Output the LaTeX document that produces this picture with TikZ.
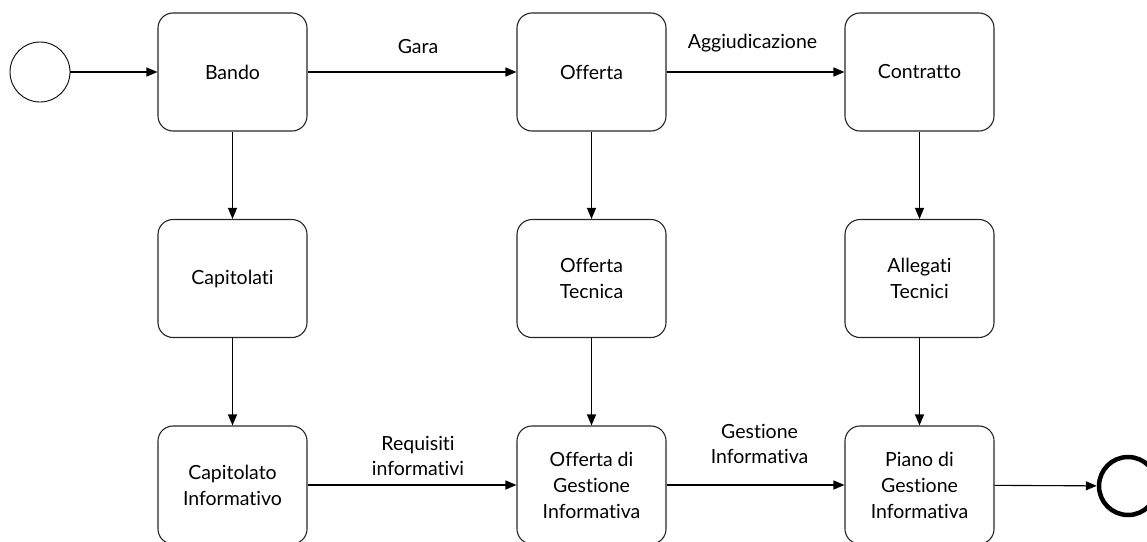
\documentclass[tikz,border=0pt]{standalone}
\usepackage{fontspec}
\setmainfont{Lato}[Ligatures=NoCommon]
\usetikzlibrary{arrows.meta}
\begin{document}
\begin{tikzpicture}[x=1pt,y=-1pt,
  task/.style={draw=black!85, line width=1.1pt, rounded corners=15pt,
    minimum width=149pt, minimum height=118pt, align=center,
    font=\fontsize{19.5}{26}\selectfont, inner sep=2pt},
  flow/.style={draw=black, line width=1.1pt,
    -{Triangle[length=11pt,width=9pt]}},
  lbl/.style={font=\fontsize{19.5}{25}\selectfont, align=center, inner sep=1pt},
  startev/.style={circle, draw=black, line width=0.9pt, minimum size=60pt, inner sep=0pt},
  endev/.style={circle, draw=black, line width=4.5pt, minimum size=58pt, inner sep=0pt}]
\useasboundingbox (0,0) rectangle (1147,541);

% events
\node[startev] (start) at (40,72) {};
\node[endev] (end) at (1128,486) {};

% tasks
\node[task] (bando)     at (232.5,72)  {Bando};
\node[task] (offerta)   at (591.5,72)  {Offerta};
\node[task] (contratto) at (919.5,72)  {Contratto};
\node[task] (capitolati) at (232.5,278.5) {Capitolati};
\node[task] (offtec)    at (591.5,278.5) {Offerta\\Tecnica};
\node[task] (allegati)  at (919.5,278.5) {Allegati\\Tecnici};
\node[task] (capinf)    at (232.5,485) {Capitolato\\Informativo};
\node[task] (offgest)   at (591.5,485) {Offerta di\\Gestione\\Informativa};
\node[task] (piano)     at (919.5,485) {Piano di\\Gestione\\Informativa};

% sequence flows
\draw[flow] (start) -- (bando);
\draw[flow] (bando) -- node[lbl, above=17pt, xshift=6pt] {Gara} (offerta);
\draw[flow] (offerta) -- node[lbl, above=18pt, xshift=-3pt] {Aggiudicazione} (contratto);
\draw[flow] (bando) -- (capitolati);
\draw[flow] (capitolati) -- (capinf);
\draw[flow] (offerta) -- (offtec);
\draw[flow] (offtec) -- (offgest);
\draw[flow] (contratto) -- (allegati);
\draw[flow] (allegati) -- (piano);
\draw[flow] (capinf) -- node[lbl, above=8pt, xshift=6pt] {Requisiti\\informativi} (offgest);
\draw[flow] (offgest) -- node[lbl, above=20pt, xshift=4pt] {Gestione\\Informativa} (piano);
\draw[flow] (piano) -- (end);
\end{tikzpicture}
\end{document}
